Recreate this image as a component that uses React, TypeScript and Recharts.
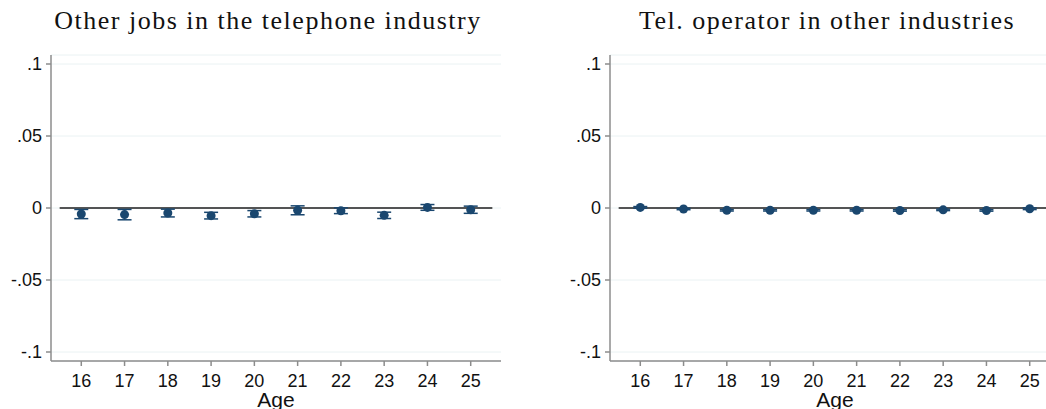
import React from 'react';
import {
  ComposedChart,
  Scatter,
  XAxis,
  YAxis,
  CartesianGrid,
  ReferenceLine,
  ErrorBar,
} from 'recharts';

const ages = [16, 17, 18, 19, 20, 21, 22, 23, 24, 25];
const leftEst = [-0.0042, -0.0046, -0.0035, -0.0053, -0.004, -0.0016, -0.0019, -0.0051, 0.0004, -0.0012];
const leftCI = [0.0032, 0.0036, 0.0027, 0.0023, 0.0022, 0.0031, 0.002, 0.0022, 0.002, 0.0025];
const rightEst = [0.0004, -0.0007, -0.0016, -0.0016, -0.0016, -0.0016, -0.0017, -0.0013, -0.0017, -0.0005];
const rightCI = [0.0006, 0.0005, 0.0005, 0.0005, 0.0005, 0.0005, 0.0005, 0.0005, 0.0005, 0.0006];
const yTicks = [-0.1, -0.05, 0, 0.05, 0.1];
const xTicks = ages;
const titles = ['Other jobs in the telephone industry', 'Tel. operator in other industries'];
const xLabel = 'Age';

const NAVY = '#1a476f';
const AXIS = '#8c8c8c';
const GRID = '#eaf2f3';

const fmtY = (v: number) => {
  if (v === 0) return '0';
  const s = String(v);
  return s.replace('0.', '.');
};

const Dot = (props: any) => {
  const { cx, cy } = props;
  if (cx == null || cy == null) return null;
  return <circle cx={cx} cy={cy} r={4.5} fill={NAVY} />;
};

const AgeLabel = (props: any) => {
  const vb = props.viewBox || {};
  return (
    <text
      x={vb.x + vb.width / 2}
      y={vb.y + 46}
      textAnchor="middle"
      fontFamily="'Liberation Sans', Arial, sans-serif"
      fontSize={21}
      fill="#111"
    >
      {xLabel}
    </text>
  );
};

function Panel({ est, ci }: { est: number[]; ci: number[] }) {
  const data = ages.map((a, i) => ({ age: a, est: est[i], ci: ci[i] }));
  return (
    <ComposedChart
      width={540}
      height={409}
      data={data}
      margin={{ top: 55, right: 39, bottom: 0, left: 0 }}
    >
      <CartesianGrid horizontal vertical={false} stroke={GRID} strokeWidth={1} />
      <XAxis
        type="number"
        dataKey="age"
        domain={[15.3, 25.7]}
        ticks={xTicks}
        allowDataOverflow
        height={48}
        tickSize={5}
        tickMargin={8}
        stroke={AXIS}
        strokeWidth={1.5}
        tick={{ fill: '#111', fontSize: 18, fontFamily: "'Liberation Sans', Arial, sans-serif" }}
        tickLine={{ stroke: AXIS }}
        interval={0}
        label={<AgeLabel />}
      />
      <YAxis
        type="number"
        dataKey="est"
        domain={[-0.10625, 0.10625]}
        ticks={yTicks}
        allowDataOverflow
        width={51}
        tickSize={5}
        tickMargin={4}
        stroke={AXIS}
        strokeWidth={1.5}
        tickFormatter={fmtY}
        tick={{ fill: '#111', fontSize: 18, fontFamily: "'Liberation Sans', Arial, sans-serif" }}
        tickLine={{ stroke: AXIS }}
        interval={0}
      />
      <ReferenceLine
        segment={[
          { x: 15.5, y: 0 },
          { x: 25.5, y: 0 },
        ]}
        stroke="#1e1e1e"
        strokeWidth={1.6}
      />
      <Scatter dataKey="est" fill={NAVY} shape={<Dot />} isAnimationActive={false}>
        <ErrorBar dataKey="ci" direction="y" width={7} stroke={NAVY} strokeWidth={1.5} />
      </Scatter>
    </ComposedChart>
  );
}

const titleStyle = (center: number): React.CSSProperties => ({
  position: 'absolute',
  left: center - 300,
  width: 600,
  top: 6,
  textAlign: 'center',
  fontFamily: "'Liberation Serif', serif",
  fontSize: 26,
  letterSpacing: '1.5px',
  color: '#111',
  whiteSpace: 'nowrap',
  lineHeight: '30px',
});

export default function App() {
  return (
    <div
      style={{
        position: 'absolute',
        left: 0,
        top: 0,
        width: 1046,
        height: 409,
        overflow: 'hidden',
        background: '#fff',
      }}
    >
      <div style={{ position: 'absolute', left: 0, top: 0 }}>
        <Panel est={leftEst} ci={leftCI} />
      </div>
      <div style={{ position: 'absolute', left: 559, top: 0 }}>
        <Panel est={rightEst} ci={rightCI} />
      </div>
      <div style={titleStyle(268)}>{titles[0]}</div>
      <div style={titleStyle(827)}>{titles[1]}</div>
    </div>
  );
}
